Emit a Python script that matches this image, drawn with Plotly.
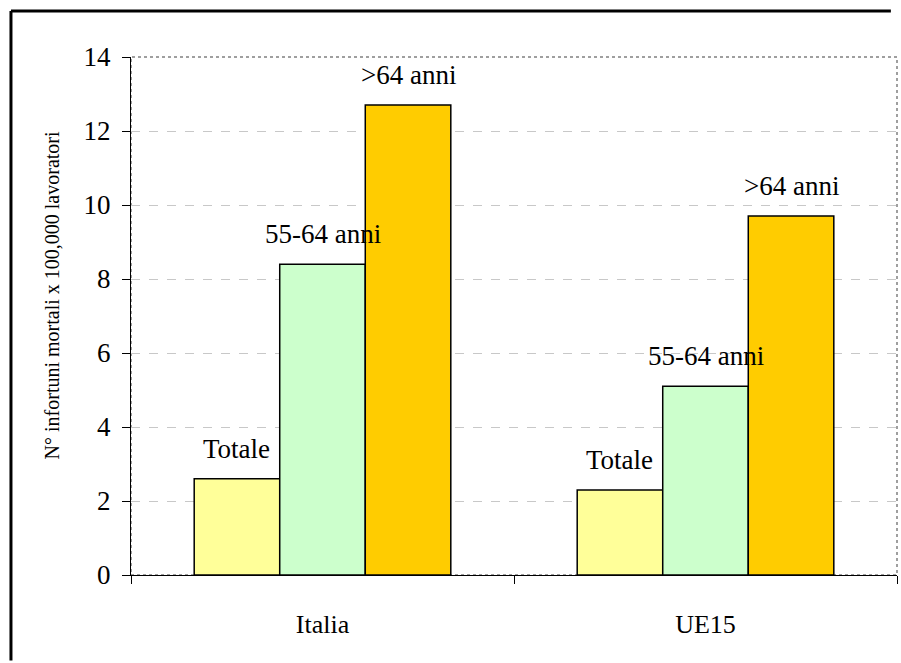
import plotly.graph_objects as go

# Fatal accident rates per 100,000 workers, by age group
categories = ["Italia", "UE15"]
series_names = ["Totale", "55-64 anni", ">64 anni"]
totale = [2.6, 2.3]
anni_55_64 = [8.4, 5.1]
anni_over_64 = [12.7, 9.7]
y_ticks = [0, 2, 4, 6, 8, 10, 12, 14]

series_values = [totale, anni_55_64, anni_over_64]
colors = ["#FFFF99", "#CCFFCC", "#FFCC00"]

FONT = "Liberation Serif"
bargap = 0.33
n = len(series_names)
bar_w = (1 - bargap) / n

fig = go.Figure()
for name, vals, col in zip(series_names, series_values, colors):
    fig.add_trace(go.Bar(
        x=categories, y=vals, name=name,
        marker=dict(color=col, line=dict(color="black", width=1.5)),
        showlegend=False,
    ))

# series name above each bar
annotations = []
for i, (name, vals) in enumerate(zip(series_names, series_values)):
    offset = -(1 - bargap) / 2 + bar_w * (i + 0.5)
    for j, v in enumerate(vals):
        annotations.append(dict(
            x=j + offset, y=v, xref="x", yref="y", text=name,
            showarrow=False, xanchor="center", yanchor="bottom", yshift=13,
            font=dict(family=FONT, size=27, color="black"),
        ))

annotations.append(dict(
    x=-0.103, y=0.54, xref="paper", yref="paper",
    xanchor="center", yanchor="middle",
    text="N° infortuni mortali x 100,000 lavoratori",
    textangle=-90, showarrow=False,
    font=dict(family=FONT, size=20, color="black"),
))

shapes = [
    # dotted plot-area frame
    dict(type="rect", xref="paper", yref="paper", x0=0, y0=0, x1=1, y1=1,
         line=dict(color="#808080", width=1.5, dash="dot"), layer="below"),
    # outer chart border: only the left and top edges fall inside the page
    dict(type="line", xref="paper", yref="paper",
         x0=-0.1567, y0=-0.165, x1=-0.1567, y1=1.0888,
         line=dict(color="black", width=3), layer="below"),
    dict(type="line", xref="paper", yref="paper",
         x0=-0.1567, y0=1.0888, x1=0.992, y1=1.0888,
         line=dict(color="black", width=3), layer="below"),
]

fig.update_layout(
    width=901, height=663,
    margin=dict(l=131, r=4, t=57, b=88),
    paper_bgcolor="white", plot_bgcolor="white",
    barmode="group", bargap=bargap, bargroupgap=0,
    font=dict(family=FONT, color="black"),
    annotations=annotations, shapes=shapes,
)
fig.update_yaxes(
    range=[0, 14], tickvals=y_ticks, ticktext=[str(t) for t in y_ticks],
    showgrid=True, gridcolor="#C8C8C8", griddash="dash", gridwidth=1,
    showline=True, linecolor="black", linewidth=1,
    ticks="outside", ticklen=8, tickcolor="black",
    tickfont=dict(family=FONT, size=27, color="black"),
    ticklabelstandoff=6, zeroline=False,
)
fig.update_xaxes(
    showline=True, linecolor="black", linewidth=1,
    ticks="outside", ticklen=8, tickcolor="black", tickson="boundaries",
    tickfont=dict(family=FONT, size=26, color="black"),
    ticklabelstandoff=26,
)

fig.write_html("out.html")
